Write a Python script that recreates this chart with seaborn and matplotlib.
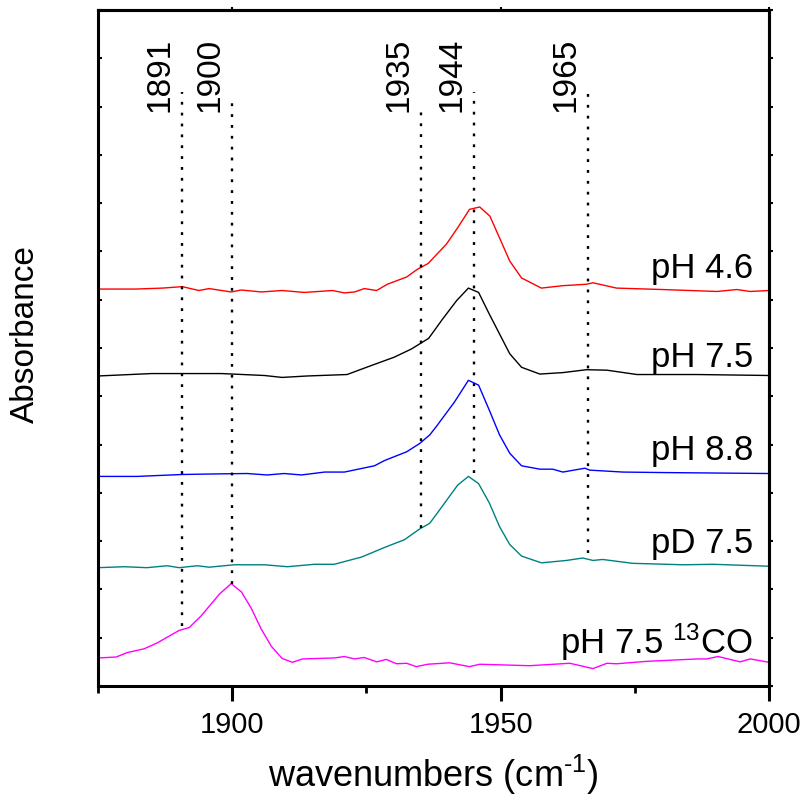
import numpy as np
import pandas as pd
import matplotlib
matplotlib.use("Agg")
import matplotlib.pyplot as plt
import seaborn as sns

# ---- spectra (wavenumber, absorbance offset) ----
red_x = [1875, 1882, 1887, 1890.7, 1893.8, 1895.7, 1899.8, 1901.7, 1905.4, 1909.3,
         1913.4, 1918.7, 1920.9, 1922.8, 1924.6, 1926.9, 1928.9, 1932.5, 1934.5, 1936.5,
         1939.9, 1942, 1944.2, 1946.1, 1948, 1949.8, 1951.7, 1953.9, 1957.6, 1961.6,
         1966, 1967.2, 1971.6, 1980.2, 1990.3, 1994, 1996.5, 2000]
red_y = [8.22, 8.22, 8.24, 8.27, 8.19, 8.23, 8.16, 8.20, 8.16, 8.19,
         8.15, 8.19, 8.14, 8.16, 8.23, 8.19, 8.32, 8.47, 8.63, 8.75,
         9.15, 9.49, 9.87, 9.92, 9.73, 9.28, 8.80, 8.45, 8.24, 8.29,
         8.32, 8.35, 8.24, 8.21, 8.17, 8.21, 8.17, 8.19]

black_x = [1875, 1885, 1891, 1898, 1906, 1909.3, 1914, 1921.4, 1926, 1930.2,
           1933.4, 1936.6, 1939.2, 1941.8, 1944, 1945.9, 1947.9, 1949.8, 1951.7, 1953.9,
           1957.3, 1961.6, 1966, 1969.8, 1975.4, 1986.6, 2000]
black_y = [6.42, 6.47, 6.47, 6.47, 6.43, 6.39, 6.42, 6.45, 6.64, 6.81,
           6.98, 7.20, 7.60, 7.98, 8.24, 8.15, 7.70, 7.29, 6.88, 6.60,
           6.46, 6.49, 6.55, 6.54, 6.45, 6.45, 6.43]

blue_x = [1875, 1882.3, 1890.7, 1896, 1902.8, 1906.5, 1909.7, 1912.9, 1917.2, 1920.9,
          1926.5, 1928.4, 1932.5, 1934.9, 1936.8, 1938, 1941.4, 1944, 1945.9, 1947.9,
          1949.8, 1951.7, 1953.9, 1957.3, 1959.7, 1961.6, 1965.7, 1966.6, 1972.8, 1980.2,
          2000]
blue_y = [4.34, 4.34, 4.38, 4.39, 4.40, 4.37, 4.40, 4.37, 4.43, 4.43,
          4.56, 4.67, 4.85, 5.02, 5.20, 5.37, 5.88, 6.33, 6.23, 5.71,
          5.20, 4.82, 4.56, 4.49, 4.49, 4.43, 4.51, 4.47, 4.43, 4.42,
          4.40]

teal_x = [1875, 1879.9, 1884.1, 1887.9, 1890.1, 1893.5, 1895.7, 1900.4, 1906, 1910.3,
          1915.3, 1919, 1924.1, 1928.4, 1932.1, 1934.9, 1936.8, 1938.2, 1942, 1944,
          1945.9, 1947.9, 1949.8, 1951.7, 1953.9, 1957.6, 1962.3, 1965.3, 1967.2, 1969,
          1974.6, 1984, 1989.6, 2000]
teal_y = [2.45, 2.47, 2.45, 2.49, 2.45, 2.49, 2.46, 2.51, 2.51, 2.47,
          2.52, 2.52, 2.67, 2.87, 3.03, 3.25, 3.37, 3.58, 4.16, 4.34,
          4.19, 3.79, 3.30, 2.93, 2.69, 2.55, 2.60, 2.65, 2.60, 2.62,
          2.54, 2.51, 2.52, 2.48]

mag_x = [1875, 1878.4, 1880.4, 1883.6, 1886, 1890.1, 1892, 1894.2, 1897.6, 1899.8,
         1901.7, 1903.5, 1905.4, 1907.3, 1909.3, 1911.2, 1913.1, 1919, 1920.9, 1922.8,
         1924.6, 1926.9, 1928.7, 1930.6, 1932.5, 1934.3, 1936.4, 1940.5, 1944.2, 1946.1,
         1955.4, 1962.9, 1967.2, 1969.8, 1971.6, 1977.2, 1986.6, 1988.4, 1990.5, 1994.6,
         1996.5, 2000]
mag_y = [0.58, 0.60, 0.69, 0.77, 0.89, 1.15, 1.21, 1.45, 1.90, 2.12,
         1.95, 1.62, 1.18, 0.82, 0.57, 0.49, 0.56, 0.58, 0.61, 0.56,
         0.59, 0.50, 0.55, 0.46, 0.47, 0.40, 0.45, 0.48, 0.40, 0.45,
         0.42, 0.47, 0.36, 0.47, 0.46, 0.51, 0.56, 0.56, 0.61, 0.50,
         0.56, 0.49]

samples = ["pH 4.6", "pH 7.5", "pH 8.8", "pD 7.5", "pH 7.5 $^{13}$CO"]
colors = ["#ff0000", "#000000", "#0000ff", "#008080", "#ff00ff"]
label_y = [8.45, 6.60, 4.68, 2.76, 0.66]

# dotted peak markers
peak_labels = ["1891", "1900", "1935", "1944", "1965"]
peak_x = [1890.7, 1900, 1935.1, 1945, 1966.2]
peak_top = [12.31, 12.10, 11.96, 12.31, 12.31]
peak_bottom = [1.24, 2.12, 3.28, 4.41, 2.76]

xs = [red_x, black_x, blue_x, teal_x, mag_x]
ys = [red_y, black_y, blue_y, teal_y, mag_y]
df = pd.concat([pd.DataFrame({"wn": x, "abs": y, "sample": s})
                for x, y, s in zip(xs, ys, samples)], ignore_index=True)

sns.set_style("ticks")
plt.rcParams["font.family"] = ["Liberation Sans", "DejaVu Sans"]
plt.rcParams["mathtext.fontset"] = "custom"
plt.rcParams["mathtext.rm"] = "Liberation Sans"
plt.rcParams["mathtext.it"] = "Liberation Sans:italic"
plt.rcParams["mathtext.default"] = "regular"
for k in ["text.color", "axes.labelcolor", "xtick.color", "ytick.color", "axes.edgecolor"]:
    plt.rcParams[k] = "black"

fig = plt.figure(figsize=(8.04, 7.97), dpi=100)
ax = fig.add_axes([0.1219, 0.1393, 0.8346, 0.8482])

sns.lineplot(data=df, x="wn", y="abs", hue="sample", palette=dict(zip(samples, colors)),
             sort=False, estimator=None, legend=False, linewidth=1.0, ax=ax)

for lab, x, t, b in zip(peak_labels, peak_x, peak_top, peak_bottom):
    ax.plot([x, x], [b, t], color="black", linewidth=1.7, linestyle=(0, (1.2, 3.4)))
    ax.text(x - 1.2, 11.88, lab, rotation=90, ha="right", va="bottom", fontsize=24)

for s, ly in zip(samples, label_y):
    ax.text(1997, ly, s, ha="right", va="baseline", fontsize=25)

ax.set_xlim(1875, 2000)
ax.set_ylim(0, 14)
ax.set_xticks([1900, 1950, 2000])
ax.set_xticks([1875, 1925, 1975], minor=True)
ax.set_yticks(np.arange(0, 15, 1))
ax.set_yticklabels([])
ax.tick_params(axis="x", which="major", direction="out", length=11, width=2.2,
               labelsize=21, pad=7)
ax.tick_params(axis="x", which="minor", direction="out", length=5, width=2.0)
ax.tick_params(axis="y", which="major", direction="in", length=3, width=1.5)

top = ax.secondary_xaxis("top")
top.set_xticks([1900, 1950, 2000])
top.set_xticklabels([])
top.tick_params(direction="out", length=2, width=1.5)
right = ax.secondary_yaxis("right")
right.set_yticks(np.arange(0, 15, 1))
right.set_yticklabels([])
right.tick_params(direction="out", length=3, width=1.5)
for sax in (top, right):
    for sp in sax.spines.values():
        sp.set_linewidth(2.2)
        sp.set_color("black")

for sp in ax.spines.values():
    sp.set_visible(True)
    sp.set_linewidth(2.2)
    sp.set_color("black")

ax.set_xlabel("wavenumbers (cm$^{\\text{-}1}$)", fontsize=26, labelpad=10)
ax.set_ylabel("Absorbance", fontsize=24)
ax.yaxis.set_label_coords(-0.085, 0.52)

fig.savefig("out.png", dpi=100)
